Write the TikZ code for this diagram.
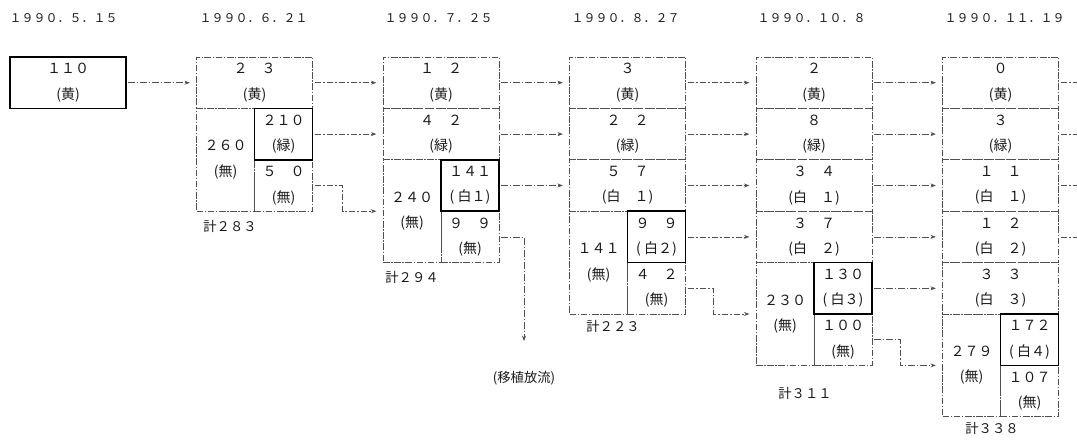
\documentclass[tikz,border=0pt]{standalone}
\usepackage{fontspec}
\setmainfont{Noto Sans CJK JP}
\usepackage{tikz}
\usetikzlibrary{arrows.meta, positioning, calc}
\definecolor{scanink}{RGB}{25,25,25}
\definecolor{scangray}{RGB}{80,80,80}
\tikzset{
  cell/.style={
    rectangle, draw=scangray, line width=0.5pt,
    dash pattern=on 5pt off 1.2pt on 1pt off 1.2pt,
    minimum width=87pt, minimum height=38.55pt, inner sep=0pt, outer sep=0pt,
    align=center, font=\fontsize{10.5}{19}\selectfont, text=scanink
  },
  halfcell/.style={cell, minimum width=43.5pt},
  tallcell/.style={halfcell, minimum height=77.1pt},
  tagbox/.style={halfcell, draw=black, solid, line width=1.2pt},
  datelabel/.style={anchor=west, font=\fontsize{9}{10}\selectfont, text=scanink},
  sumlabel/.style={font=\fontsize{10}{11}\selectfont, text=scanink},
  flow/.style={-{Stealth[length=4pt,width=3pt]}, line width=0.5pt, draw=scangray,
    dash pattern=on 5pt off 1.5pt on 1pt off 1.5pt, shorten >=5pt, shorten <=1.5pt},
  stub/.style={flow, -, shorten >=0pt}
}

\begin{document}
\begin{tikzpicture}[x=0.75pt, y=-0.75pt]
  \useasboundingbox (0,0) rectangle (1077,439);

  % ── Dates ─────────────────────────────────────────────────────────
  \node[datelabel] (d1) at (5, 18)   {１９９０．５．１５};
  \node[datelabel] (d2) at (195, 18) {１９９０．６．２１};
  \node[datelabel] (d3) at (380, 18) {１９９０．７．２５};
  \node[datelabel] (d4) at (567, 18) {１９９０．８．２７};
  \node[datelabel] (d5) at (753, 18) {１９９０．１０．８};
  \node[datelabel] (d6) at (940, 18) {１９９０．１１．１９};

  % ── Col 1 ─────────────────────────────────────────────────────────
  \node[tagbox, minimum width=87pt] (b1y) at (68, 82.7) {１１０\\(黄)};

  % ── Col 2 ─────────────────────────────────────────────────────────
  \node[cell]     (b2y) at (254.5, 82.7)  {２　３\\(黄)};
  \node[tallcell] (b2n) at (225.5, 159.8) {２６０\\(無)};
  \node[halfcell] (b2r) at (283.5, 185.5) {５　０\\(無)};
  \node[tagbox]   (b2g) at (283.5, 134.1) {２１０\\(緑)};
  \node[sumlabel] (s2)  at (230, 226)     {計２８３};

  % ── Col 3 ─────────────────────────────────────────────────────────
  \node[cell]     (b3y)  at (441, 82.7)  {１　２\\(黄)};
  \node[cell]     (b3g)  at (441, 134.1) {４　２\\(緑)};
  \node[tallcell] (b3n)  at (412, 211.2) {２４０\\(無)};
  \node[halfcell] (b3r)  at (470, 236.9) {９　９\\(無)};
  \node[tagbox]   (b3w1) at (470, 185.5) {１４１\\( 白１)};
  \node[sumlabel] (s3)   at (412, 277)   {計２９４};

  % ── Col 4 ─────────────────────────────────────────────────────────
  \node[cell]     (b4y)  at (627.5, 82.7)  {３\\(黄)};
  \node[cell]     (b4g)  at (627.5, 134.1) {２　２\\(緑)};
  \node[cell]     (b4w1) at (627.5, 185.5) {５　７\\(白　１)};
  \node[tallcell] (b4n)  at (598.5, 262.6) {１４１\\(無)};
  \node[halfcell] (b4r)  at (656.5, 288.3) {４　２\\(無)};
  \node[tagbox]   (b4w2) at (656.5, 236.9) {９　９\\( 白２)};
  \node[sumlabel] (s4)   at (613, 326)     {計２２３};

  % ── Col 5 ─────────────────────────────────────────────────────────
  \node[cell]     (b5y)  at (814, 82.7)  {２\\(黄)};
  \node[cell]     (b5g)  at (814, 134.1) {８\\(緑)};
  \node[cell]     (b5w1) at (814, 185.5) {３　４\\(白　１)};
  \node[cell]     (b5w2) at (814, 236.9) {３　７\\(白　２)};
  \node[tallcell] (b5n)  at (785, 314)   {２３０\\(無)};
  \node[halfcell] (b5r)  at (843, 339.7) {１００\\(無)};
  \node[tagbox]   (b5w3) at (843, 288.3) {１３０\\( 白３)};
  \node[sumlabel] (s5)   at (805, 393)   {計３１１};

  % ── Col 6 ─────────────────────────────────────────────────────────
  \node[cell]     (b6y)  at (1000.5, 82.7)  {０\\(黄)};
  \node[cell]     (b6g)  at (1000.5, 134.1) {３\\(緑)};
  \node[cell]     (b6w1) at (1000.5, 185.5) {１　１\\(白　１)};
  \node[cell]     (b6w2) at (1000.5, 236.9) {１　２\\(白　２)};
  \node[cell]     (b6w3) at (1000.5, 288.3) {３　３\\(白　３)};
  \node[tallcell] (b6n)  at (971.5, 365.4)  {２７９\\(無)};
  \node[halfcell] (b6r)  at (1029.5, 391.1) {１０７\\(無)};
  \node[tagbox]   (b6w4) at (1029.5, 339.7) {１７２\\( 白４)};
  \node[sumlabel] (s6)   at (992, 428)      {計３３８};

  % ── Release ───────────────────────────────────────────────────────
  \node[sumlabel] (release) at (524, 378) {(移植放流)};

  % ── Connections ───────────────────────────────────────────────────
  \draw[flow] (b1y) -- (b2y);

  \draw[flow] (b2y) -- (b3y);
  \draw[flow] (b2g) -- (b3g);
  \draw[flow] (b2r.east) -- ++(30,0) |- (b3n.west);

  \draw[flow] (b3y)  -- (b4y);
  \draw[flow] (b3g)  -- (b4g);
  \draw[flow] (b3w1) -- (b4w1);
  \draw[flow, shorten >=19pt] (b3r.east) -| (release.north);

  \draw[flow] (b4y)  -- (b5y);
  \draw[flow] (b4g)  -- (b5g);
  \draw[flow] (b4w1) -- (b5w1);
  \draw[flow] (b4w2) -- (b5w2);
  \draw[flow] (b4r.east) -- ++(28,0) |- (b5n.west);

  \draw[flow] (b5y)  -- (b6y);
  \draw[flow] (b5g)  -- (b6g);
  \draw[flow] (b5w1) -- (b6w1);
  \draw[flow] (b5w2) -- (b6w2);
  \draw[flow] (b5w3) -- (b6w3);
  \draw[flow] (b5r.east) -- ++(28,0) |- (b6n.west);

  % ── Off to the right ─────────────────────────────────────────────
  \coordinate (o1) at (1077, 82.7);
  \coordinate (o2) at (1077, 134.1);
  \coordinate (o3) at (1077, 185.5);
  \coordinate (o4) at (1077, 236.9);
  \draw[stub] (b6y)  -- (o1);
  \draw[stub] (b6g)  -- (o2);
  \draw[stub] (b6w1) -- (o3);
  \draw[stub] (b6w2) -- (o4);
\end{tikzpicture}
\end{document}
